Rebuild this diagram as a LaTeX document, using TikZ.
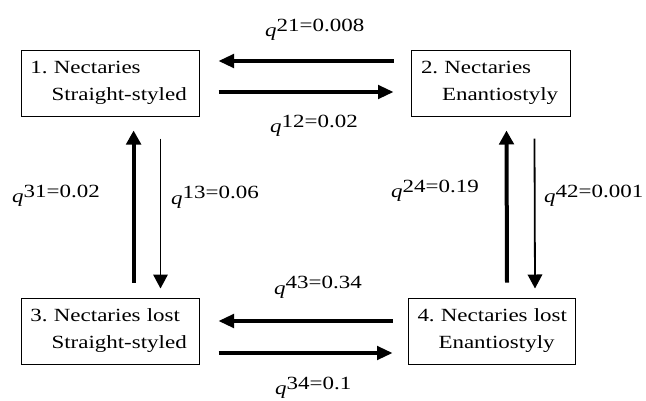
\documentclass[tikz,border=0pt]{standalone}
\usepackage{fontspec}
\setmainfont{Liberation Serif}[FakeStretch=1.235]
\usetikzlibrary{arrows.meta,calc}

\newcommand{\rate}[2]{\textit{q}\raisebox{5.5pt}{#1=#2}}

\begin{document}
\begin{tikzpicture}[x=1pt,y=-1pt,
	font=\fontsize{18.6pt}{27pt}\selectfont\frenchspacing,
	state/.style={draw,line width=1pt,minimum height=66pt,inner xsep=9.5pt,inner ysep=0pt,align=left},
	hflow/.style={line width=3.3pt,-{Triangle[length=15.5pt,width=13.5pt]}},
	upflow/.style={line width=4pt,-{Triangle[length=14pt,width=14.5pt]}},
	downflow/.style={line width=1.8pt,-{Triangle[length=14pt,width=14.5pt]}},
	ratelabel/.style={anchor=west,inner sep=0pt}]

	  \useasboundingbox (0,0) rectangle (646,400);

	  \node[state,text width=159pt] (n1) at (110,83) {\mbox{1. Nectaries}\\\hspace*{21pt}\mbox{Straight-styled}};
	  \node[state,text width=140pt] (n2) at (491,83) {\mbox{2. Nectaries}\\\hspace*{21pt}\mbox{Enantiostyly}};
	  \node[state,text width=159pt] (n3) at (110,331) {\mbox{3. Nectaries lost}\\\hspace*{21pt}\mbox{Straight-styled}};
	  \node[state,text width=148pt] (n4) at (491.5,331) {\mbox{4. Nectaries lost}\\\hspace*{21pt}\mbox{Enantiostyly}};


	  \draw[hflow] ($(n2.west)+(-17.5,-22)$) -- ($(n1.east)+(19,-22)$);
	  \draw[hflow] ($(n1.east)+(19,9)$) -- ($(n2.west)+(-17.5,9)$);
	  \draw[hflow] ($(n4.west)+(-15,-10)$) -- ($(n3.east)+(19,-10)$);
	  \draw[hflow] ($(n3.east)+(19,22)$) -- ($(n4.west)+(-15,22)$);

	  \draw[upflow] ($(n3.north)+(23.6,-15)$) -- ($(n1.south)+(23.6,14)$);
	  \draw[downflow] ($(n1.south)+(50.5,22)$) -- ($(n3.north)+(50.5,-9)$);
	  \draw[upflow] ($(n4.north)+(15.5,-15)$) -- ($(n2.south)+(15.5,14)$);
	  \draw[downflow] ($(n2.south)+(43.5,22)$) -- ($(n4.north)+(43.5,-9)$);


	  \node[ratelabel] (r21) at (265,30) {\rate{21}{0.008}};
	  \node[ratelabel] (r12) at (270,126) {\rate{12}{0.02}};
	  \node[ratelabel] (r31) at (12,196) {\rate{31}{0.02}};
	  \node[ratelabel] (r13) at (171,197.5) {\rate{13}{0.06}};
	  \node[ratelabel] (r24) at (391,191) {\rate{24}{0.19}};
	  \node[ratelabel] (r42) at (544,196) {\rate{42}{0.001}};
	  \node[ratelabel] (r43) at (274,287.5) {\rate{43}{0.34}};
	  \node[ratelabel] (r34) at (275,388) {\rate{34}{0.1}};

	\end{tikzpicture}
\end{document}
